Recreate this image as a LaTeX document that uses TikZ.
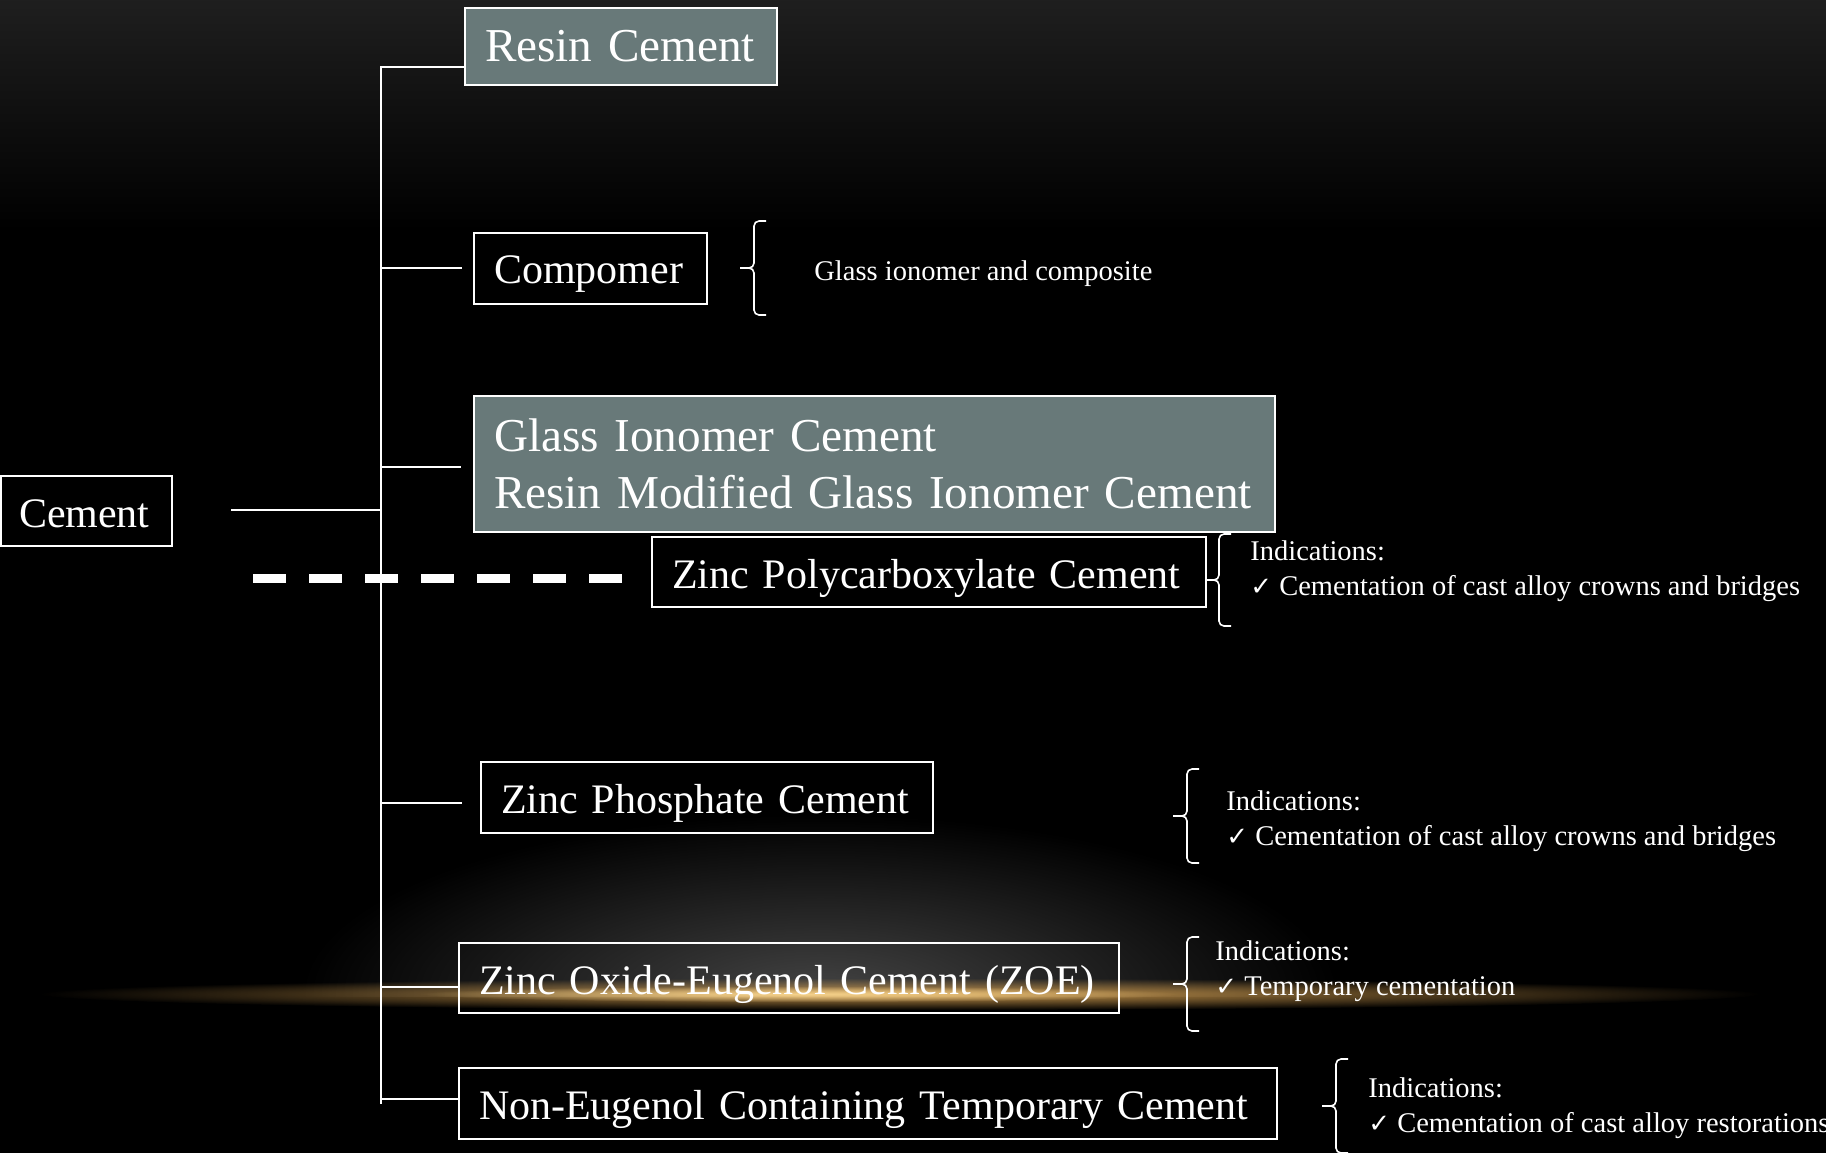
\documentclass[tikz,border=0pt]{standalone}
\usepackage{fontspec}
\setmainfont{Liberation Serif}
\newfontfamily\symfont{DejaVu Sans}
\usetikzlibrary{fadings}
\definecolor{boxfill}{RGB}{104,121,121}
\definecolor{goldglow}{RGB}{200,150,75}
\definecolor{goldcore}{RGB}{245,210,140}
\definecolor{spotgray}{RGB}{68,68,68}
\tikzfading[name=softglow, inner color=transparent!0, outer color=transparent!100]
\newcommand{\chkmark}{{\symfont\fontsize{13}{13}\selectfont ✓}}
\newcommand{\lowertext}[2]{\raisebox{-#1}[\height][\depth]{#2}}
% left brace: stem x, top y, bottom y, tip y
\newcommand{\leftbracemark}[4]{%
  \draw[bracestyle] (#1+12,#2) -- (#1,#2) -- (#1,#4) -- (#1-14,#4);
  \draw[bracestyle] (#1+12,#3) -- (#1,#3) -- (#1,#4) -- (#1-14,#4);}
\begin{document}
\begin{tikzpicture}[x=0.5pt,y=-0.5pt,
  conn/.style={draw=white, line width=1pt},
  box/.style={draw=white, line width=1pt, text=white, inner xsep=10pt, inner ysep=0pt, align=left, font=\fontsize{21}{25}\selectfont},
  fillbox/.style={box, fill=boxfill, font=\fontsize{23.6}{28.5}\selectfont},
  note/.style={text=white, align=left, anchor=west, inner sep=0pt, font=\fontsize{14.25}{17.5}\selectfont},
  bracestyle/.style={draw=white, line width=0.8pt, rounded corners=2.5pt},
]
\useasboundingbox (0,0) rectangle (1826,1153);
\clip (0,0) rectangle (1826,1153);
% background
\fill[black] (0,0) rectangle (1826,1153);
\shade[top color=black!88, bottom color=black] (0,0) rectangle (1826,230);
\begin{scope}
  \clip (0,700) rectangle (1826,996);
  \fill[spotgray, path fading=softglow] (820,994) ellipse [x radius=260pt, y radius=90pt];
\end{scope}
\fill[goldglow, path fading=softglow] (900,994) ellipse [x radius=430pt, y radius=8pt];
\fill[goldcore, path fading=softglow] (800,994) ellipse [x radius=190pt, y radius=4pt];

% nodes
\node[fillbox, text width=136pt, minimum height=38.5pt] (resin) at (621,46.5) {\mbox{Resin Cement}};
\node[box, text width=96.5pt, minimum height=35.5pt] (compomer) at (590.5,268.5) {\lowertext{3pt}{Compomer}};
\node[fillbox, text width=380.5pt, minimum height=68pt] (glass) at (874.5,464) {\mbox{Glass Ionomer Cement}\\\mbox{Resin Modified Glass Ionomer Cement}};
\node[box, inner xsep=9pt, text width=67.5pt, minimum height=35pt] (cement) at (86.5,511) {\lowertext{1.2pt}{Cement}};
\node[box, text width=257pt, minimum height=35pt] (poly) at (929,572) {\lowertext{3pt}{Zinc Polycarboxylate Cement}};
\node[box, text width=206pt, minimum height=35.5pt] (phos) at (707,797.5) {\lowertext{3pt}{Zinc Phosphate Cement}};
\node[box, text width=310pt, minimum height=35pt] (zoe) at (789,978) {\lowertext{3pt}{Zinc Oxide-Eugenol Cement (ZOE)}};
\node[box, text width=389pt, minimum height=35.5pt] (noneug) at (868,1103.5) {\lowertext{3pt}{Non-Eugenol Containing Temporary Cement}};

% notes
\node[note] (compnote) at (814,273.5) {Glass ionomer and composite};
\node[note] (polynote) at (1250,571.5) {Indications:\\\chkmark\ Cementation of cast alloy crowns and bridges};
\node[note] (phosnote) at (1226,821) {Indications:\\\chkmark\ Cementation of cast alloy crowns and bridges};
\node[note] (zoenote) at (1215,971) {Indications:\\\chkmark\ Temporary cementation};
\node[note] (noneugnote) at (1368,1108.5) {Indications:\\\chkmark\ Cementation of cast alloy restorations};

% trunk and branches
\coordinate (ttop) at (381,66);
\coordinate (tbot) at (381,1104);
\draw[conn] (ttop) -- (tbot);
\coordinate (rB) at (381,67);
\draw[conn] (rB) -- (rB -| resin.west);
\coordinate (cB1) at (381,268);
\coordinate (cB2) at (462,268);
\draw[conn] (cB1) -- (cB2);
\coordinate (gB1) at (381,467);
\coordinate (gB2) at (461,467);
\draw[conn] (gB1) -- (gB2);
\coordinate (ceB) at (231,510);
\draw[conn] (ceB) -- (ceB -| ttop);
\coordinate (pB1) at (381,803);
\coordinate (pB2) at (462,803);
\draw[conn] (pB1) -- (pB2);
\coordinate (zB) at (381,987);
\draw[conn] (zB) -- (zB -| zoe.west);
\coordinate (nB) at (381,1099);
\draw[conn] (nB) -- (nB -| noneug.west);

% dashed line
\coordinate (dS) at (253,578);
\coordinate (dE) at (622,578);
\draw[draw=white, line width=4.5pt, dash pattern=on 16.5pt off 11.5pt] (dS) -- (dE);

% braces
\leftbracemark{754}{221}{315}{268}
\leftbracemark{1219}{534}{626}{580}
\leftbracemark{1187}{769}{863}{816}
\leftbracemark{1187}{937}{1031}{984}
\leftbracemark{1336}{1059}{1153}{1106}
\end{tikzpicture}
\end{document}
